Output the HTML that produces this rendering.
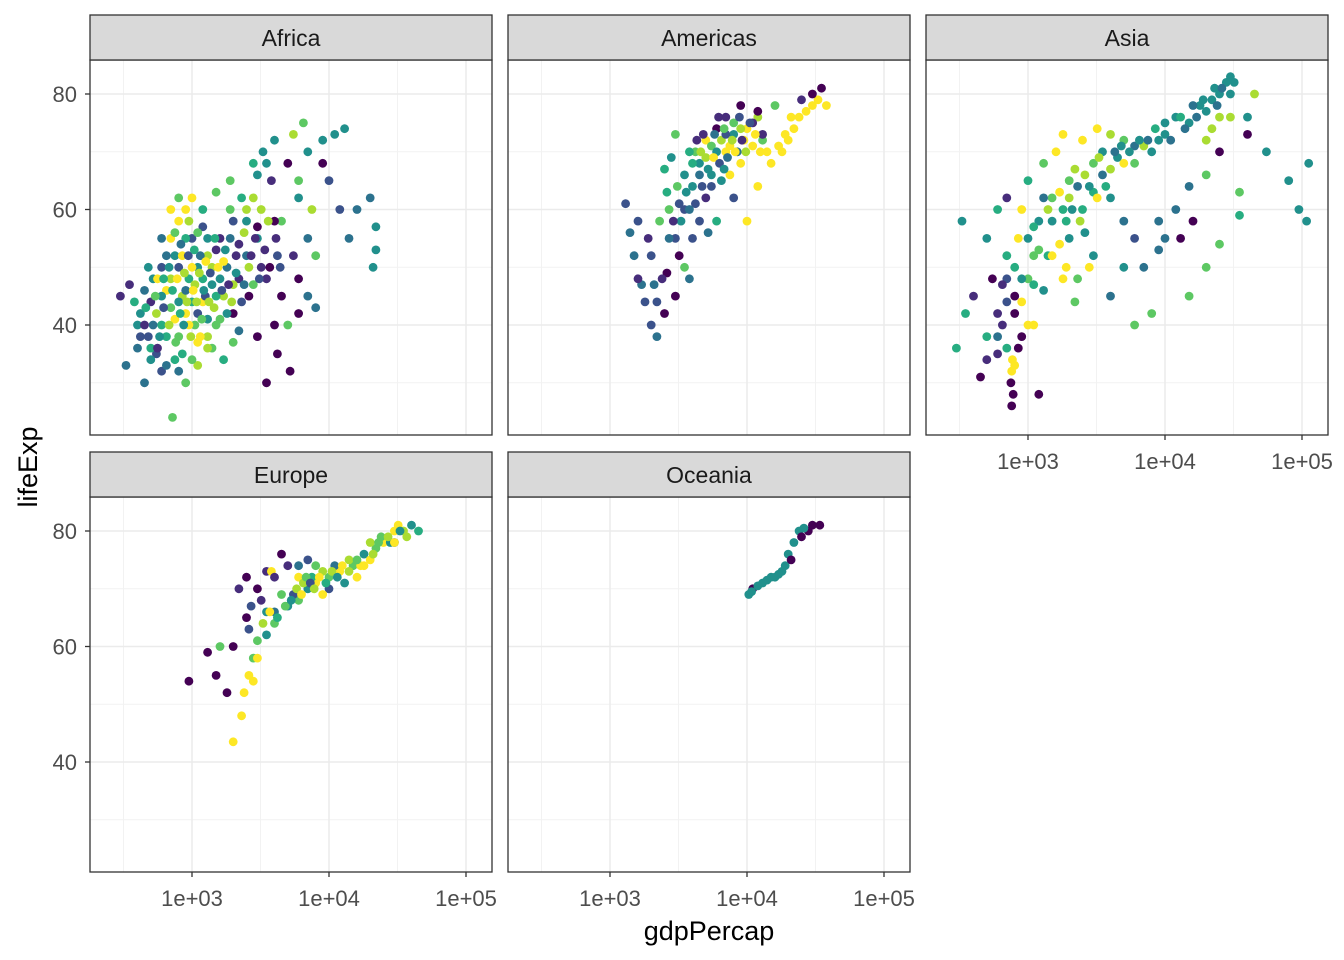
<!DOCTYPE html>
<html><head><meta charset="utf-8"><style>
html,body{margin:0;padding:0;background:#fff;}
svg{display:block;font-family:"Liberation Sans",Arial,sans-serif;}
</style></head><body>
<svg id="chart" width="1344" height="960" xmlns="http://www.w3.org/2000/svg">
<text x="709" y="940" font-size="27" text-anchor="middle" fill="#000">gdpPercap</text>
<text transform="translate(37,467) rotate(-90)" font-size="27" text-anchor="middle" fill="#000">lifeExp</text>
</svg>
<script>
const panelNames = ["Africa","Americas","Asia","Europe","Oceania"];
const xTickValues = [1000,10000,100000];
const xTickLabels = ["1e+03","1e+04","1e+05"];
const yTickValues = [40,60,80];
const yTickLabels = ["40","60","80"];
const palette = ["#440154","#472d7b","#3b528b","#2c728e","#21908c","#27ad81","#5dc863","#aadc32","#fde725"];
const africaPoints = [
[300,45,1],[350,47,1],[330,33,3],[400,36,3],[420,42,4],[450,30,3],[480,38,2],[500,44,1],[520,48,4],[550,35,2],[600,40,5],[600,50,2],[650,46,8],[700,43,6],[700,55,8],[720,24,6],[750,52,4],[800,38,6],[800,58,8],[850,45,7],[900,42,8],[900,30,6],[950,48,5],[1000,55,2],[1000,62,8],[1050,40,6],[1100,50,4],[1100,33,7],[1200,44,8],[1200,57,2],[1300,38,7],[1300,52,7],[1400,47,4],[1500,40,6],[1500,63,6],[1600,55,1],[1700,45,7],[1800,50,3],[1900,65,6],[2000,42,0],[2000,58,2],[2200,48,1],[2300,62,5],[2500,52,3],[2600,45,0],[2800,68,5],[3000,55,4],[3000,38,0],[3200,60,7],[3300,70,4],[3500,48,1],[3500,30,0],[3800,65,1],[4000,72,4],[4200,52,2],[4500,58,6],[4500,45,0],[5000,68,0],[5000,40,6],[5500,73,7],[6000,62,4],[6000,48,0],[6500,75,6],[7000,55,3],[7000,70,4],[8000,52,6],[8000,43,3],[9000,72,4],[10000,65,2],[11000,73,4],[12000,60,2],[13000,74,4],[14000,55,3],[16000,60,3],[20000,62,3],[21000,50,4],[22000,57,4],[22000,53,4],[9000,68,0],[4000,58,0],[5200,32,0],[6000,42,0],
[400,40,4],[450,46,3],[500,36,5],[550,42,7],[600,45,4],[650,38,5],[650,52,3],[700,48,7],[750,41,8],[750,56,6],[800,44,4],[800,50,2],[850,35,5],[850,52,8],[900,46,3],[900,55,5],[950,40,8],[950,58,7],[1000,44,5],[1000,50,8],[1050,47,7],[1100,42,2],[1100,56,6],[1150,38,8],[1150,52,3],[1200,48,5],[1250,45,2],[1300,41,4],[1300,55,4],[1400,50,7],[1400,36,6],[1500,45,5],[1500,53,1],[1600,48,4],[1700,51,8],[1800,42,4],[1900,55,3],[2000,47,7],[2100,52,1],[2300,44,2],[2400,56,7],[2600,50,7],[2800,47,6],[3000,57,0],[3200,50,1],[2200,39,3],[1700,34,5],[1000,34,6],[600,32,2],[560,48,8],[900,60,8],[1200,60,5],[2800,62,7],[3600,58,7],
[420,38,2],[460,43,5],[480,50,4],[520,40,3],[540,45,6],[580,38,4],[620,43,2],[620,48,5],[680,40,7],[680,50,4],[720,46,5],[760,37,6],[780,48,8],[820,42,5],[830,54,3],[870,40,4],[880,49,7],[920,44,7],[940,52,2],[980,38,7],[1020,46,8],[1040,53,5],[1080,44,7],[1130,49,7],[1180,41,6],[1220,46,4],[1260,51,8],[1330,44,7],[1360,49,2],[1450,43,7],[1470,55,5],[1550,50,8],[1650,46,2],[1750,53,4],[1850,47,1],[1950,44,7],[2100,49,4],[2200,54,1],[2400,47,3],[2500,58,4],[2700,52,1],[2900,55,1],[3100,48,2],[3400,53,1],[3700,50,0],[4100,55,1],[4400,50,2],[3000,66,4],[3500,68,4],[2500,60,7],[700,60,8],[800,62,6],[600,55,3],[560,36,1],[500,34,4],[450,40,1],[380,44,5],[1600,41,6],[2000,37,6],[1300,36,7],[1100,37,8],[800,32,3],[750,34,5],[650,33,3],[1900,60,6],[4000,40,0],[4200,35,0],[7000,45,3],[5500,52,1],[6000,65,6],[7500,60,7]];
const americasPoints = [
[1300,61,2],[1400,56,3],[1500,52,3],[1700,47,3],[1800,44,2],[2000,40,2],[2200,38,3],[2500,42,0],[2600,49,0],[3000,55,2],[3000,45,0],[3500,60,2],[3500,50,6],[4000,64,4],[4000,55,2],[4200,70,6],[4500,68,4],[5000,62,1],[5000,72,8],[5500,66,4],[6000,74,0],[6000,58,5],[7000,70,8],[7000,76,1],[8000,73,4],[8000,62,2],[9000,78,0],[10000,74,8],[10000,58,8],[11000,71,8],[12000,76,7],[12000,64,8],[13000,72,6],[15000,68,8],[16000,78,6],[18000,70,8],[20000,72,8],[22000,74,8],[24000,76,8],[27000,77,8],[30000,78,8],[33000,79,8],[38000,78,8],[25000,79,1],[30000,80,0],[35000,81,0],[13000,73,1],[11000,75,1],[12000,77,0],[3000,73,6],[2500,67,5],[2800,69,4],[5500,71,6],[9000,68,8],[7500,66,8],[6500,65,4],[4500,58,2],[3800,48,3],[3200,52,0],
[4000,68,5],[4500,66,3],[5000,69,7],[5500,64,2],[6000,70,4],[6500,72,7],[7000,73,2],[7500,71,8],[8000,75,6],[8500,70,3],[9000,74,7],[9500,72,8],[3500,66,4],[4800,73,1],[6200,76,1],[2200,44,2],[2700,55,3],[3300,58,4],[4200,61,2],[5200,56,3],[2000,52,2],[1600,48,1],
[2600,63,5],[3100,64,6],[3600,63,4],[3800,70,5],[4300,72,1],[4600,70,7],[4700,64,2],[5200,67,4],[5700,69,8],[5800,73,3],[6300,68,2],[6800,67,4],[6800,74,6],[7200,69,3],[7800,72,7],[8200,70,8],[8800,76,2],[9200,72,1],[9800,70,7],[10500,75,2],[11500,73,8],[12500,70,8],[14000,70,8],[17000,71,8],[19000,73,8],[21000,76,8],[3800,60,3],[3200,61,2],[2900,58,1],[2400,48,1],[2100,47,3],[1900,55,1],[1600,58,2],[2300,58,6],[2700,60,6]];
const asiaPoints = [
[300,36,5],[330,58,4],[350,42,5],[400,45,1],[450,31,0],[500,38,5],[500,55,4],[550,48,0],[600,35,1],[650,40,1],[700,52,5],[700,62,1],[750,30,0],[780,28,0],[800,33,8],[800,45,0],[850,55,8],[900,60,8],[1000,48,6],[1000,65,5],[1100,40,8],[1200,58,4],[1300,68,6],[1400,52,5],[1500,62,6],[1600,70,8],[1800,48,8],[2000,65,6],[2000,55,4],[2200,44,6],[2500,72,8],[2500,60,5],[3000,68,6],[3000,52,4],[3500,70,4],[4000,62,4],[4000,45,3],[5000,72,6],[5000,58,3],[6000,68,6],[6000,40,6],[7000,50,3],[8000,42,6],[8000,70,4],[10000,73,4],[10000,55,3],[12000,76,4],[12000,60,3],[15000,75,4],[15000,45,6],[18000,78,4],[20000,50,6],[20000,66,6],[22000,79,4],[25000,80,4],[25000,54,6],[28000,82,4],[32000,82,4],[35000,63,6],[35000,59,5],[40000,76,4],[45000,80,7],[55000,70,4],[80000,65,4],[95000,60,4],[108000,58,4],[112000,68,4],[1200,28,0],[900,38,0],[600,60,5],[1800,73,8],[3200,74,8],[4000,73,7],[2800,50,8],[1500,52,8],[1000,40,8],
[1500,58,4],[1800,60,5],[2000,62,7],[2300,64,3],[2600,66,7],[3000,63,5],[3500,66,3],[4000,67,7],[4500,69,4],[5000,68,8],[6000,71,3],[7000,71,7],[9000,72,4],[11000,72,3],[14000,74,3],[17000,76,3],[20000,77,4],[24000,78,3],[30000,80,4],[15000,64,3],[9000,58,3],[700,36,5],[600,42,1],[700,44,2],[900,48,4],[1100,52,6],[2400,58,7],[3200,62,8],[20000,72,7],[30000,76,7],[40000,73,0],[25000,70,0],
[1300,62,3],[1400,60,7],[1700,63,8],[1900,58,5],[2100,60,4],[2200,67,7],[2800,64,4],[3300,69,7],[3700,64,5],[4300,70,3],[4800,71,4],[5500,70,4],[6500,72,4],[7500,72,3],[8500,74,5],[10000,75,4],[13000,76,5],[16000,78,3],[19000,79,4],[23000,81,4],[26000,81,3],[30000,83,4],[25000,76,7],[22000,74,7],[1000,55,4],[1100,57,5],[1200,53,6],[800,50,5],[700,48,2],[650,47,1],[600,38,3],[500,34,1],[800,42,0],[850,36,0],[760,26,0],[760,32,8],[770,34,8],[900,44,8],[1700,54,8],[2600,56,4],[1300,46,4],[1100,47,5],[1900,50,8],[2300,48,6],[5000,50,4],[9000,53,3],[6000,55,2],[16000,58,0],[13000,55,0]];
const europePoints = [
[950,54,0],[1300,59,0],[1500,55,0],[2000,60,0],[2000,43.5,8],[2300,48,8],[2400,52,8],[2800,54,8],[2500,65,0],[2500,72,0],[3000,61,6],[3000,70,0],[3500,66,4],[3500,73,1],[4000,64,6],[4500,76,0],[5000,67,4],[5000,74,1],[6000,68,6],[6000,72,8],[7000,70,4],[8000,71,8],[8000,74,6],[10000,72,6],[10000,70,2],[12000,73,8],[13000,71,4],[15000,74,6],[18000,76,4],[20000,75,8],[22000,77,6],[25000,78,8],[28000,78,4],[30000,80,8],[35000,80,7],[40000,81,4],[45000,80,5],[3500,62,4],[4500,69,6],[9000,69,8],[16000,72,8],[1600,60,6],[2800,58,6],[3800,73,8],
[4000,66,3],[5500,69,2],[6500,71,7],[7500,72,5],[9000,73,7],[11000,74,3],[14000,75,7],[17000,74,8],[20000,78,7],[24000,79,6],[30000,78,2],[32000,81,8],[1800,52,0],[2200,70,1],[2700,67,2],
[4200,65,5],[4800,67,6],[5300,68,4],[5800,70,7],[6300,69,8],[6800,72,6],[7300,71,2],[7800,70,7],[8500,72,8],[9500,71,5],[10500,73,7],[11500,72,4],[12500,74,8],[14000,73,7],[16000,75,6],[18000,74,8],[21000,76,7],[23000,78,6],[27000,79,7],[30000,78,8],[33000,80,4],[37000,79,7],[3300,64,7],[3700,66,8],[3000,58,8],[2600,55,8],[4000,72,1],[3200,68,1],[2600,63,2],[6000,74,3],[7000,75,2]];
const oceaniaPoints = [
[10300,69,4],[11000,70,0],[12000,70.5,4],[13000,71,4],[14000,71.5,4],[16000,72,4],[18000,73,4],[19000,74,4],[20000,76,4],[22000,78,4],[24000,80,4],[25000,79,0],[28000,80,0],[30000,81,0],[34000,81,0],[21000,75,0],[10800,69.5,4],[15000,72,4],[17000,72.5,4],[26000,80.5,4]];
const allPoints = [africaPoints, americasPoints, asiaPoints, europePoints, oceaniaPoints];

const NS = "http://www.w3.org/2000/svg";
const svg = document.getElementById("chart");
const panels = [
 {x:90,y:60},{x:508,y:60},{x:926,y:60},{x:90,y:497},{x:508,y:497}];
const PW = 402, PH = 375;
function xScale(v){ return 102 + (Math.log10(v) - 3) * 137; }
function yScale(v){ return 34 + (80 - v) * 5.775; }
function mk(tag, attrs){ const e=document.createElementNS(NS,tag); for(const k in attrs) e.setAttribute(k, attrs[k]); return e; }

panels.forEach((p, i) => {
  const g = mk("g", {transform:`translate(${p.x},${p.y})`});
  
  
  svg.appendChild(g);
  [2.5,3.5,4.5].forEach(l => {
    const x = xScale(Math.pow(10,l));
    const ln = mk("line",{x1:x,x2:x,y1:0,y2:PH,stroke:"#f2f2f2","stroke-width":1});
    
    
    g.appendChild(ln);
  });
  [30,50,70].forEach(v => {
    const y = yScale(v);
    const ln = mk("line",{x1:0,x2:PW,y1:y,y2:y,stroke:"#f2f2f2","stroke-width":1});
    
    
    g.appendChild(ln);
  });
  xTickValues.forEach(v => {
    const x = xScale(v);
    const ln = mk("line",{x1:x,x2:x,y1:0,y2:PH,stroke:"#ebebeb","stroke-width":1.5});
    
    
    g.appendChild(ln);
  });
  yTickValues.forEach(v => {
    const y = yScale(v);
    const ln = mk("line",{x1:0,x2:PW,y1:y,y2:y,stroke:"#ebebeb","stroke-width":1.5});
    
    
    g.appendChild(ln);
  });
  allPoints[i].forEach(d => {
    const c = mk("circle",{cx:xScale(d[0]).toFixed(1),cy:yScale(d[1]).toFixed(1),r:4.4,fill:palette[d[2]]});
    
    
    g.appendChild(c);
  });
  const border = mk("rect",{x:0,y:0,width:PW,height:PH,fill:"none",stroke:"#333","stroke-width":1.3});
  
  
  g.appendChild(border);
  const strip = mk("rect",{x:0,y:-45,width:PW,height:45,fill:"#d9d9d9",stroke:"#333","stroke-width":1.3});
  
  
  g.appendChild(strip);
  const st = mk("text",{x:PW/2,y:-14,"font-size":23,"text-anchor":"middle",fill:"#1a1a1a"});
  st.textContent = panelNames[i];
  
  
  g.appendChild(st);
  if (i === 0 || i === 3) {
    yTickValues.forEach((v,k) => {
      const y = yScale(v);
      const t = mk("line",{x1:-5,x2:0,y1:y,y2:y,stroke:"#333","stroke-width":1.3});
      
      
      g.appendChild(t);
      const tx = mk("text",{x:-13,y:y+8,"font-size":22,"text-anchor":"end",fill:"#4d4d4d"});
      tx.textContent = yTickLabels[k];
      
      
      g.appendChild(tx);
    });
  }
  if (i >= 2) {
    xTickValues.forEach((v,k) => {
      const x = xScale(v);
      const t = mk("line",{x1:x,x2:x,y1:PH,y2:PH+5,stroke:"#333","stroke-width":1.3});
      
      
      g.appendChild(t);
      const tx = mk("text",{x:x,y:PH+34,"font-size":22,"text-anchor":"middle",fill:"#4d4d4d"});
      tx.textContent = xTickLabels[k];
      
      
      g.appendChild(tx);
    });
  }
});
</script>
</body></html>
